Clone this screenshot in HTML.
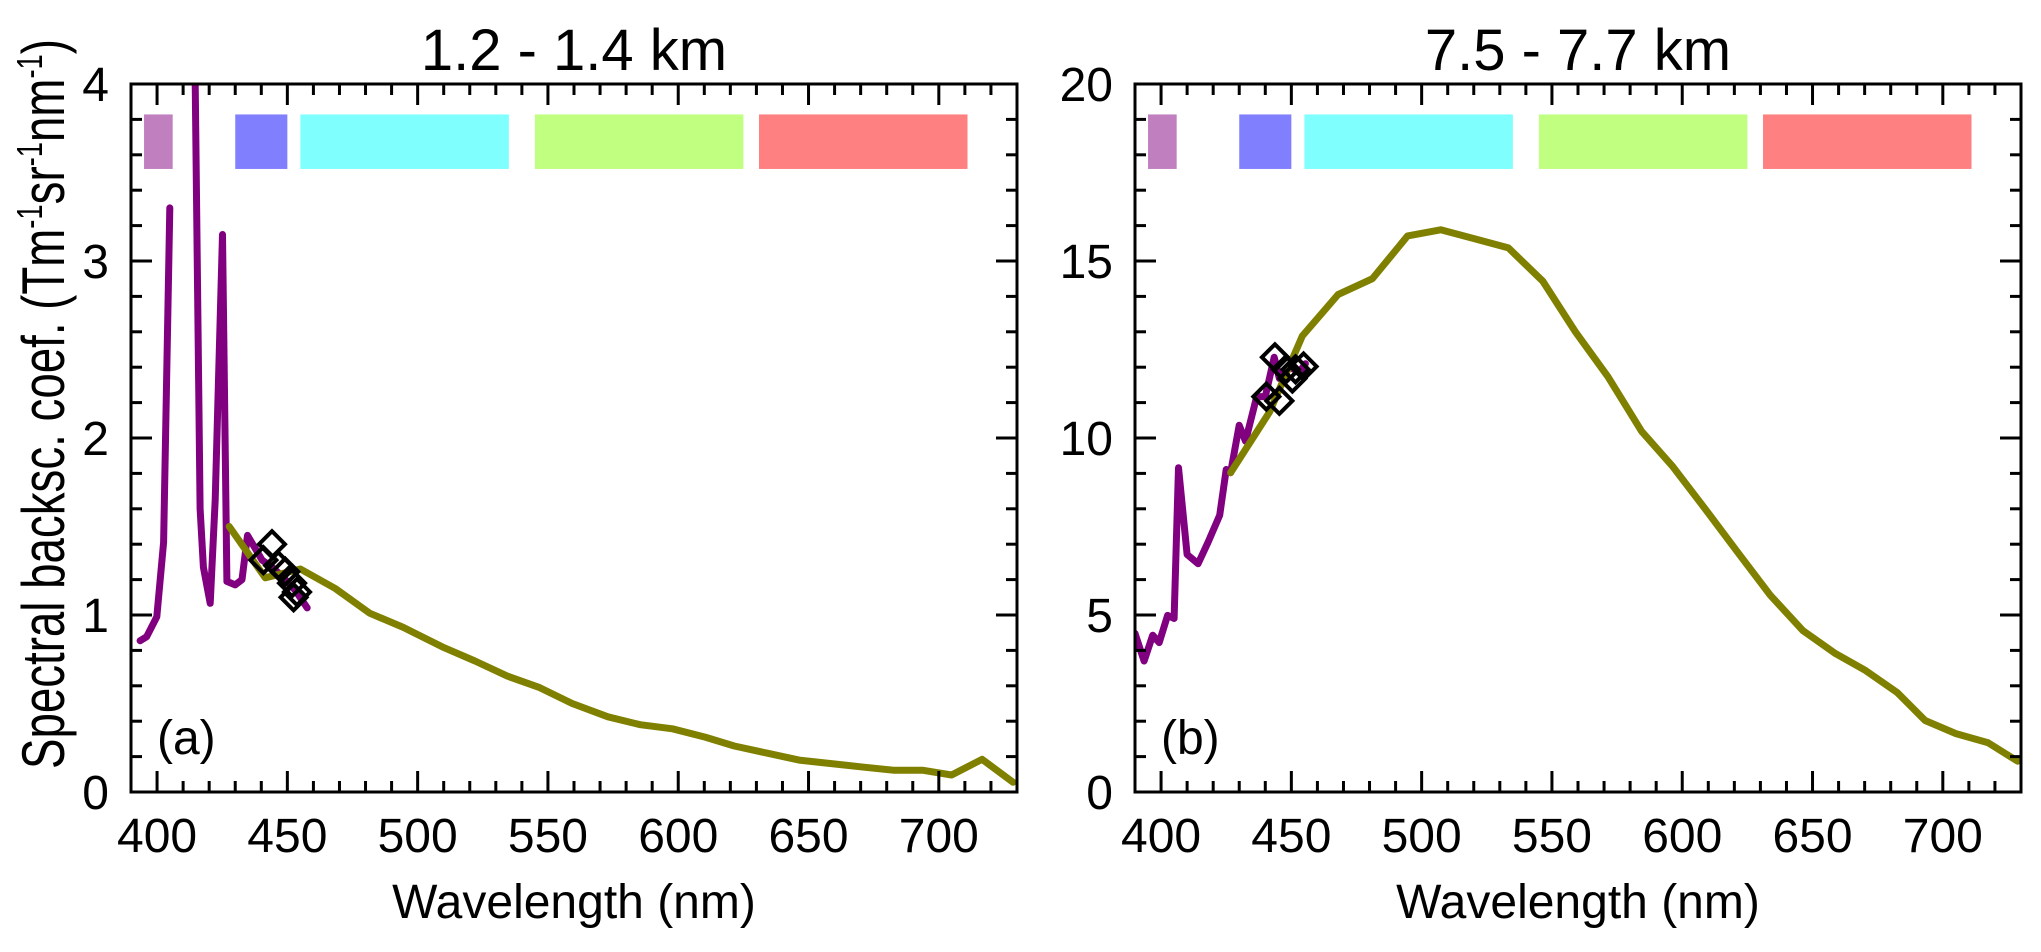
<!DOCTYPE html>
<html><head><meta charset="utf-8"><style>
html,body{margin:0;padding:0;background:#fff;}
svg{display:block;font-family:"Liberation Sans",Arial,sans-serif;}
</style></head><body>
<svg id="chart" width="2041" height="952" viewBox="0 0 2041 952" xmlns="http://www.w3.org/2000/svg"></svg>
<script>
// ---- data ----
const xTicks = [400,450,500,550,600,650,700];
const yTicksA = [0,1,2,3,4];
const yTicksB = [0,5,10,15,20];
const bandStart = [395,430,455,545,631];
const bandEnd = [406,450,535,625,711];
const bandColors = ['#C080C0','#8080FF','#80FFFF','#C0FF80','#FF8080'];
// panel (a)
const olivaA_x = [427.7,441.5,455,468.4,481.6,494.5,509.5,522,534.4,546.8,559.3,573,585.4,597.8,610.3,621.5,634,646.4,660.1,671.3,682.5,693.7,704.9,716.6,728.5];
const olivaA_y = [1.50,1.21,1.26,1.15,1.01,0.93,0.82,0.74,0.655,0.59,0.50,0.425,0.38,0.357,0.31,0.26,0.22,0.18,0.158,0.14,0.123,0.123,0.096,0.185,0.055];
const purpleA_x = [393.5,396,399.9,402.5,404.9,null,414.4,416.5,417.8,420.4,422.3,425.1,426.8,430,432.6,434.7,440.3,444.1,448,453,457.6];
const purpleA_y = [0.855,0.877,0.99,1.41,3.30,null,4.3,1.6,1.27,1.066,1.65,3.15,1.19,1.17,1.2,1.45,1.31,1.27,1.22,1.14,1.04];
const diamA_x = [444.1,440.8,446.5,449.2,451.8,453.7,452.4];
const diamA_y = [1.40,1.31,1.28,1.245,1.18,1.13,1.10];
// panel (b)
const olivaB_x = [426.7,441.7,454.2,467.9,481.1,494.6,507.3,520.3,533.3,546.5,559,571.5,584.4,596.4,608.9,621.4,633.8,646.3,658.8,670,682.5,693.2,705,717.4,728.7];
const olivaB_y = [9.02,10.74,12.88,14.05,14.5,15.71,15.88,15.63,15.37,14.43,13.0,11.73,10.19,9.19,7.99,6.76,5.56,4.56,3.91,3.45,2.81,2.02,1.65,1.39,0.87];
const purpleB_x = [390,393.5,396.8,399.3,402.5,405,406.7,410,414.2,418,422.5,425,426.7,430,432.4,436.7,440,443.4,445.4,449.2,452.9,455.4];
const purpleB_y = [4.48,3.70,4.43,4.22,4.99,4.9,9.16,6.71,6.45,7.05,7.82,9.11,9.02,10.36,9.91,11.17,11.17,12.28,11.68,12.02,11.85,12.1];
const diamB_x = [443.7,445.4,440.4,447.9,451.6,454.7,450.4];
const diamB_y = [12.28,11.05,11.17,11.94,11.94,12.02,11.68];

const NS='http://www.w3.org/2000/svg';
const svg=document.getElementById('chart');
function mk(tag,attrs,parent){const e=document.createElementNS(NS,tag);for(const k in attrs)e.setAttribute(k,attrs[k]);(parent||svg).appendChild(e);return e;}

function panel(opt){
  const L=opt.left,R=opt.left+886,T=84,B=792;
  const X0=390,X1=730;
  const sx=v=>L+(v-X0)*(R-L)/(X1-X0);
  const sy=v=>B-(v/opt.ymax)*(B-T);
  const g=mk('g',{});
  
  
  const clipId='clip'+opt.name;
  const cp=mk('clipPath',{id:clipId},g);mk('rect',{x:L,y:T,width:R-L,height:B-T},cp);
  for(let i=0;i<bandStart.length;i++){
    const r=mk('rect',{x:sx(bandStart[i]),y:sy(opt.ymax*0.957),width:sx(bandEnd[i])-sx(bandStart[i]),height:sy(opt.ymax*0.88)-sy(opt.ymax*0.957),fill:bandColors[i]},g);
    
    
  }
  const cg=mk('g',{'clip-path':'url(#'+clipId+')'},g);
  function line(xs,ys,color,name){
    let d='',pen=false;
    for(let i=0;i<xs.length;i++){
      if(xs[i]===null){pen=false;continue;}
      d+=(pen?'L':'M')+sx(xs[i]).toFixed(1)+' '+sy(ys[i]).toFixed(1);pen=true;
    }
    const p=mk('path',{d:d,fill:'none',stroke:color,'stroke-width':7,'stroke-linejoin':'round','stroke-linecap':'round'},cg);
    
    
  }
  line(opt.px,opt.py,'#800080','purple-series');
  line(opt.ox,opt.oy,'#808000','olive-series');
  for(let i=0;i<opt.dx.length;i++){
    const cx=sx(opt.dx[i]),cy=sy(opt.dy[i]),h=13;
    const m=mk('path',{d:`M${cx} ${cy-h}L${cx+h} ${cy}L${cx} ${cy+h}L${cx-h} ${cy}Z`,fill:'none',stroke:'#000','stroke-width':4},cg);
    
    
  }
  const tk=mk('g',{stroke:'#000','stroke-width':3},g);
  for(let v=X0;v<=X1;v+=10){
    const len=(v%50===0)?21:11,x=sx(v);
    if(x<=L+1||x>=R-1)continue;
    mk('line',{x1:x,y1:B,x2:x,y2:B-len},tk);mk('line',{x1:x,y1:T,x2:x,y2:T+len},tk);
  }
  for(let v=0;v<=opt.ymax+1e-9;v+=opt.minor){
    const major=Math.abs(v/opt.major-Math.round(v/opt.major))<1e-6;
    const len=major?21:11,y=sy(v);
    mk('line',{x1:L,y1:y,x2:L+len,y2:y},tk);mk('line',{x1:R,y1:y,x2:R-len,y2:y},tk);
  }
  const fr=mk('rect',{x:L,y:T,width:R-L,height:B-T,fill:'none',stroke:'#000','stroke-width':3},g);
  
  
  xTicks.forEach(v=>{const t=mk('text',{x:sx(v),y:852,'font-size':48,'text-anchor':'middle'},g);t.textContent=v;
    });
  opt.yt.forEach(v=>{const t=mk('text',{x:L-22,y:sy(v)+17,'font-size':48,'text-anchor':'end'},g);t.textContent=v;
    });
  const xt=mk('text',{x:(L+R)/2,y:918,'font-size':48,'text-anchor':'middle'},g);xt.textContent='Wavelength (nm)';
  
  const tt=mk('text',{x:(L+R)/2,y:70,'font-size':58,'text-anchor':'middle'},g);tt.textContent=opt.title;
  
  const pl=mk('text',{x:L+26,y:754,'font-size':48},g);pl.textContent=opt.label;
  
}
panel({name:'panel-a',left:131,ymax:4,major:1,minor:0.2,yt:yTicksA,title:'1.2 - 1.4 km',label:'(a)',
  ox:olivaA_x,oy:olivaA_y,px:purpleA_x,py:purpleA_y,dx:diamA_x,dy:diamA_y});
panel({name:'panel-b',left:1135,ymax:20,major:5,minor:1,yt:yTicksB,title:'7.5 - 7.7 km',label:'(b)',
  ox:olivaB_x,oy:olivaB_y,px:purpleB_x,py:purpleB_y,dx:diamB_x,dy:diamB_y});
const yt=mk('text',{transform:'translate(64 404) rotate(-90)','font-size':60,'text-anchor':'middle',textLength:730,lengthAdjust:'spacingAndGlyphs'});


yt.innerHTML='Spectral backsc. coef. (Tm<tspan dy="-22" font-size="36">-1</tspan><tspan dy="22">sr</tspan><tspan dy="-22" font-size="36">-1</tspan><tspan dy="22">nm</tspan><tspan dy="-22" font-size="36">-1</tspan><tspan dy="22">)</tspan>';
</script>
</body></html>
